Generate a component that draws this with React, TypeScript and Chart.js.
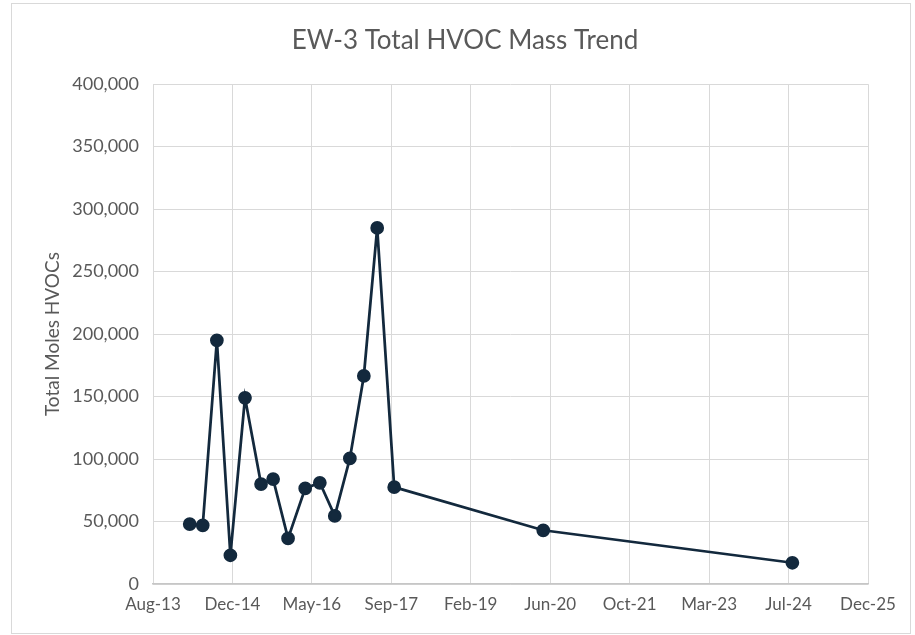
import React, { useEffect, useRef } from "react";
import { Chart, registerables } from "chart.js";

Chart.register(...registerables);

const chartTitle = "EW-3 Total HVOC Mass Trend";
const yAxisTitle = "Total Moles HVOCs";

// Sample dates (ISO) and total moles HVOCs
const sampleDates = [
  "2014-04-02", "2014-06-23", "2014-09-20", "2014-12-14",
  "2015-03-16", "2015-06-25", "2015-09-09", "2015-12-12",
  "2016-03-29", "2016-06-29", "2016-10-01", "2017-01-04",
  "2017-04-02", "2017-06-25", "2017-10-10", "2020-05-05",
  "2024-08-20",
];
const totalMoles = [
  48000, 47000, 195000, 23000,
  149000, 80000, 84000, 36500,
  76500, 81000, 54500, 100500,
  166500, 285000, 77500, 43000,
  17000,
];

// X axis (Excel date axis): min 14-Aug-2013, max 9-Dec-2025, major unit 500 days
const axisStart = "2013-08-14";
const axisMaxDays = 4500;
const axisStepDays = 500;
const yMax = 400000;
const yStep = 50000;

const MONTHS = ["Jan", "Feb", "Mar", "Apr", "May", "Jun", "Jul", "Aug", "Sep", "Oct", "Nov", "Dec"];
const DAY = 86400000;
const toMs = (s: string) => {
  const [y, m, d] = s.split("-").map(Number);
  return Date.UTC(y, m - 1, d);
};
const startMs = toMs(axisStart);
const toDays = (s: string) => Math.round((toMs(s) - startMs) / DAY);
const fmtDay = (v: number) => {
  const d = new Date(startMs + v * DAY);
  return MONTHS[d.getUTCMonth()] + "-" + String(d.getUTCFullYear() % 100).padStart(2, "0");
};

const FONT = "Lato, 'Open Sans', sans-serif";
const TEXT = "#595959";
const LINE = "#13293d";

export default function App() {
  const ref = useRef<HTMLCanvasElement | null>(null);

  useEffect(() => {
    if (!ref.current) return;
    const points = sampleDates.map((d, i) => ({ x: toDays(d), y: totalMoles[i] }));
    const chart = new Chart(ref.current, {
      type: "line",
      data: {
        datasets: [
          {
            data: points,
            borderColor: LINE,
            backgroundColor: LINE,
            borderWidth: 2.75,
            pointRadius: 5.5,
            pointHoverRadius: 5.5,
            pointBackgroundColor: LINE,
            pointBorderColor: LINE,
            tension: 0,
            fill: false,
          },
        ],
      },
      options: {
        responsive: false,
        animation: false,
        layout: { padding: { left: 62, right: 47, top: 0, bottom: 0 } },
        plugins: {
          legend: { display: false },
          tooltip: { enabled: false },
          title: {
            display: true,
            text: chartTitle,
            color: TEXT,
            font: { family: FONT, size: 26, weight: "normal" },
            padding: { top: 25, bottom: 28 },
          },
        },
        scales: {
          x: {
            type: "linear",
            min: 0,
            max: axisMaxDays,
            afterFit: (s: any) => {
              s.height = 51;
            },
            ticks: {
              stepSize: axisStepDays,
              autoSkip: false,
              maxRotation: 0,
              color: TEXT,
              padding: 10,
              font: { family: FONT, size: 17 },
              callback: (v: any) => fmtDay(Number(v)),
            },
            grid: { color: "#d9d9d9", lineWidth: 1, drawTicks: false },
            border: { display: true, color: "#c6c6c6", width: 1.5 },
          },
          y: {
            min: 0,
            max: yMax,
            afterFit: (s: any) => {
              s.width = 91;
            },
            ticks: {
              stepSize: yStep,
              color: TEXT,
              padding: 14,
              font: { family: FONT, size: 18 },
              callback: (v: any) => Number(v).toLocaleString("en-US"),
            },
            grid: { color: "#d9d9d9", lineWidth: 1, drawTicks: false },
            border: { display: false },
            title: {
              display: true,
              text: yAxisTitle,
              color: TEXT,
              font: { family: FONT, size: 19, weight: "normal" },
              padding: { top: -21, bottom: 0 },
            },
          },
        },
      },
    });
    return () => chart.destroy();
  }, []);

  return (
    <div style={{ position: "fixed", left: 0, top: 0, width: 915, height: 635, background: "#fff" }}>
      <div
        style={{
          position: "absolute",
          left: 11,
          top: 3,
          width: 898,
          height: 629,
          border: "1px solid #d9d9d9",
        }}
      />
      <canvas ref={ref} width={915} height={635} style={{ position: "absolute", left: 0, top: 0, display: "block" }} />
    </div>
  );
}
